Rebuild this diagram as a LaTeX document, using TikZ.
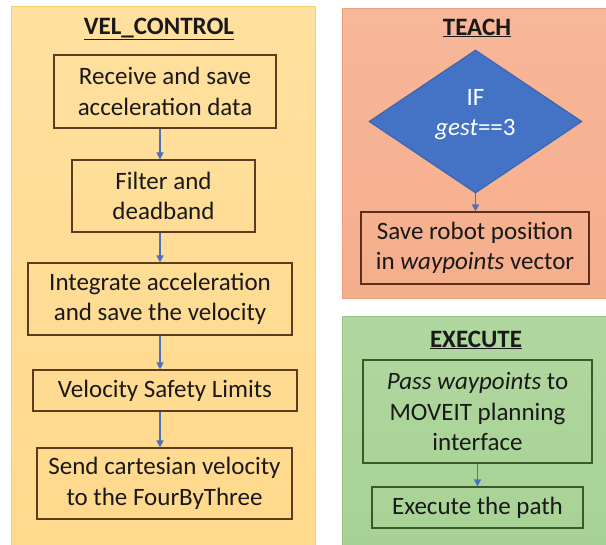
\documentclass[tikz,border=0pt]{standalone}
\usepackage{fontspec}
\setmainfont{Carlito}
\usetikzlibrary{shapes.geometric,arrows.meta}
\definecolor{orfill}{HTML}{FFD98C}
\definecolor{ortop}{HTML}{FFE09E}
\definecolor{orline}{HTML}{F2D06A}
\definecolor{orbox}{HTML}{5A3D1E}
\definecolor{tefill}{HTML}{F5AE8C}
\definecolor{tetop}{HTML}{F7B799}
\definecolor{teline}{HTML}{EDA07E}
\definecolor{tebox}{HTML}{5E2E1C}
\definecolor{exfill}{HTML}{A8D295}
\definecolor{extop}{HTML}{B0D79F}
\definecolor{exline}{HTML}{98C583}
\definecolor{exbox}{HTML}{3A5A2C}
\definecolor{diafill}{HTML}{4472C4}
\definecolor{dialine}{HTML}{3A63AE}
\definecolor{arrblue}{HTML}{4A72B8}
\tikzset{
  txt/.style={font=\fontsize{25}{30.5}\selectfont, text=black!90, align=center},
  ttl/.style={font=\bfseries\fontsize{25}{30}\selectfont, text=black!90},
  stepbox/.style={txt, draw=#1, line width=1.2pt, inner sep=0pt},
  arr/.style={draw=arrblue, line width=1.6pt, -{Triangle[length=7pt,width=7pt]}},
}
\begin{document}
\begin{tikzpicture}[x=1pt,y=-1pt]
\useasboundingbox (0,0) rectangle (606,545);
% panels
\shade[top color=ortop, bottom color=orfill] (11,7) rectangle (315,545);
\draw[orline, line width=1pt] (11,545) -- (11,7) -- (315,7) -- (315,545);
\shade[top color=tetop, bottom color=tefill] (342,9) rectangle (606,299);
\draw[teline, line width=1pt] (606,299) -- (342,299) -- (342,9) -- (606,9);
\shade[top color=extop, bottom color=exfill] (342,317) rectangle (606,545);
\draw[exline, line width=1pt] (342,545) -- (342,317) -- (606,317);

% VEL_CONTROL
\node[ttl] (t1) at (159,29) {\underline{VEL\_CONTROL}};
\node[stepbox=orbox, minimum width=222pt, minimum height=73pt] (b1) at (165,91.5) {Receive and save\\acceleration data};
\node[stepbox=orbox, minimum width=183pt, minimum height=72pt] (b2) at (163.5,196) {Filter and\\deadband};
\node[stepbox=orbox, minimum width=264pt, minimum height=72pt] (b3) at (160,299) {Integrate acceleration\\and save the velocity};
\node[stepbox=orbox, minimum width=264pt, minimum height=41pt] (b4) at (165,390.5) {Velocity Safety Limits};
\node[stepbox=orbox, minimum width=255pt, minimum height=71pt] (b5) at (164.5,483.5) {Send cartesian velocity\\to the FourByThree};
\coordinate (ax) at (160,0);
\draw[arr] (b1.south -| ax) -- (b2.north -| ax);
\draw[arr] (b2.south -| ax) -- (b3.north -| ax);
\draw[arr] (b3.south -| ax) -- (b4.north -| ax);
\draw[arr] (b4.south -| ax) -- (b5.north -| ax);

% TEACH
\node[ttl] (t2) at (477,28) {\underline{TEACH}};
\node[diamond, fill=diafill, draw=dialine, line width=1pt, minimum width=213pt, minimum height=143pt, inner sep=0pt, aspect=1.49,
      txt, text=white] (d1) at (475.5,121.5) {IF\\\textit{gest}==3\\[-12pt]\mbox{}};
\node[stepbox=tebox, minimum width=228pt, minimum height=72pt] (b6) at (475,248) {Save robot position\\in \textit{waypoints} vector};
\draw[arr] (d1.south) -- (b6.north -| d1.south);

% EXECUTE
\node[ttl] (t3) at (476,340) {\underline{EXECUTE}};
\node[stepbox=exbox, minimum width=229pt, minimum height=103pt] (b7) at (477.5,411.5) {\textit{Pass waypoints} to\\MOVEIT planning\\interface};
\node[stepbox=exbox, minimum width=211pt, minimum height=41pt] (b8) at (477.5,507.5) {Execute the path};
\draw[arr] (b7.south) -- (b8.north);
\end{tikzpicture}
\end{document}
